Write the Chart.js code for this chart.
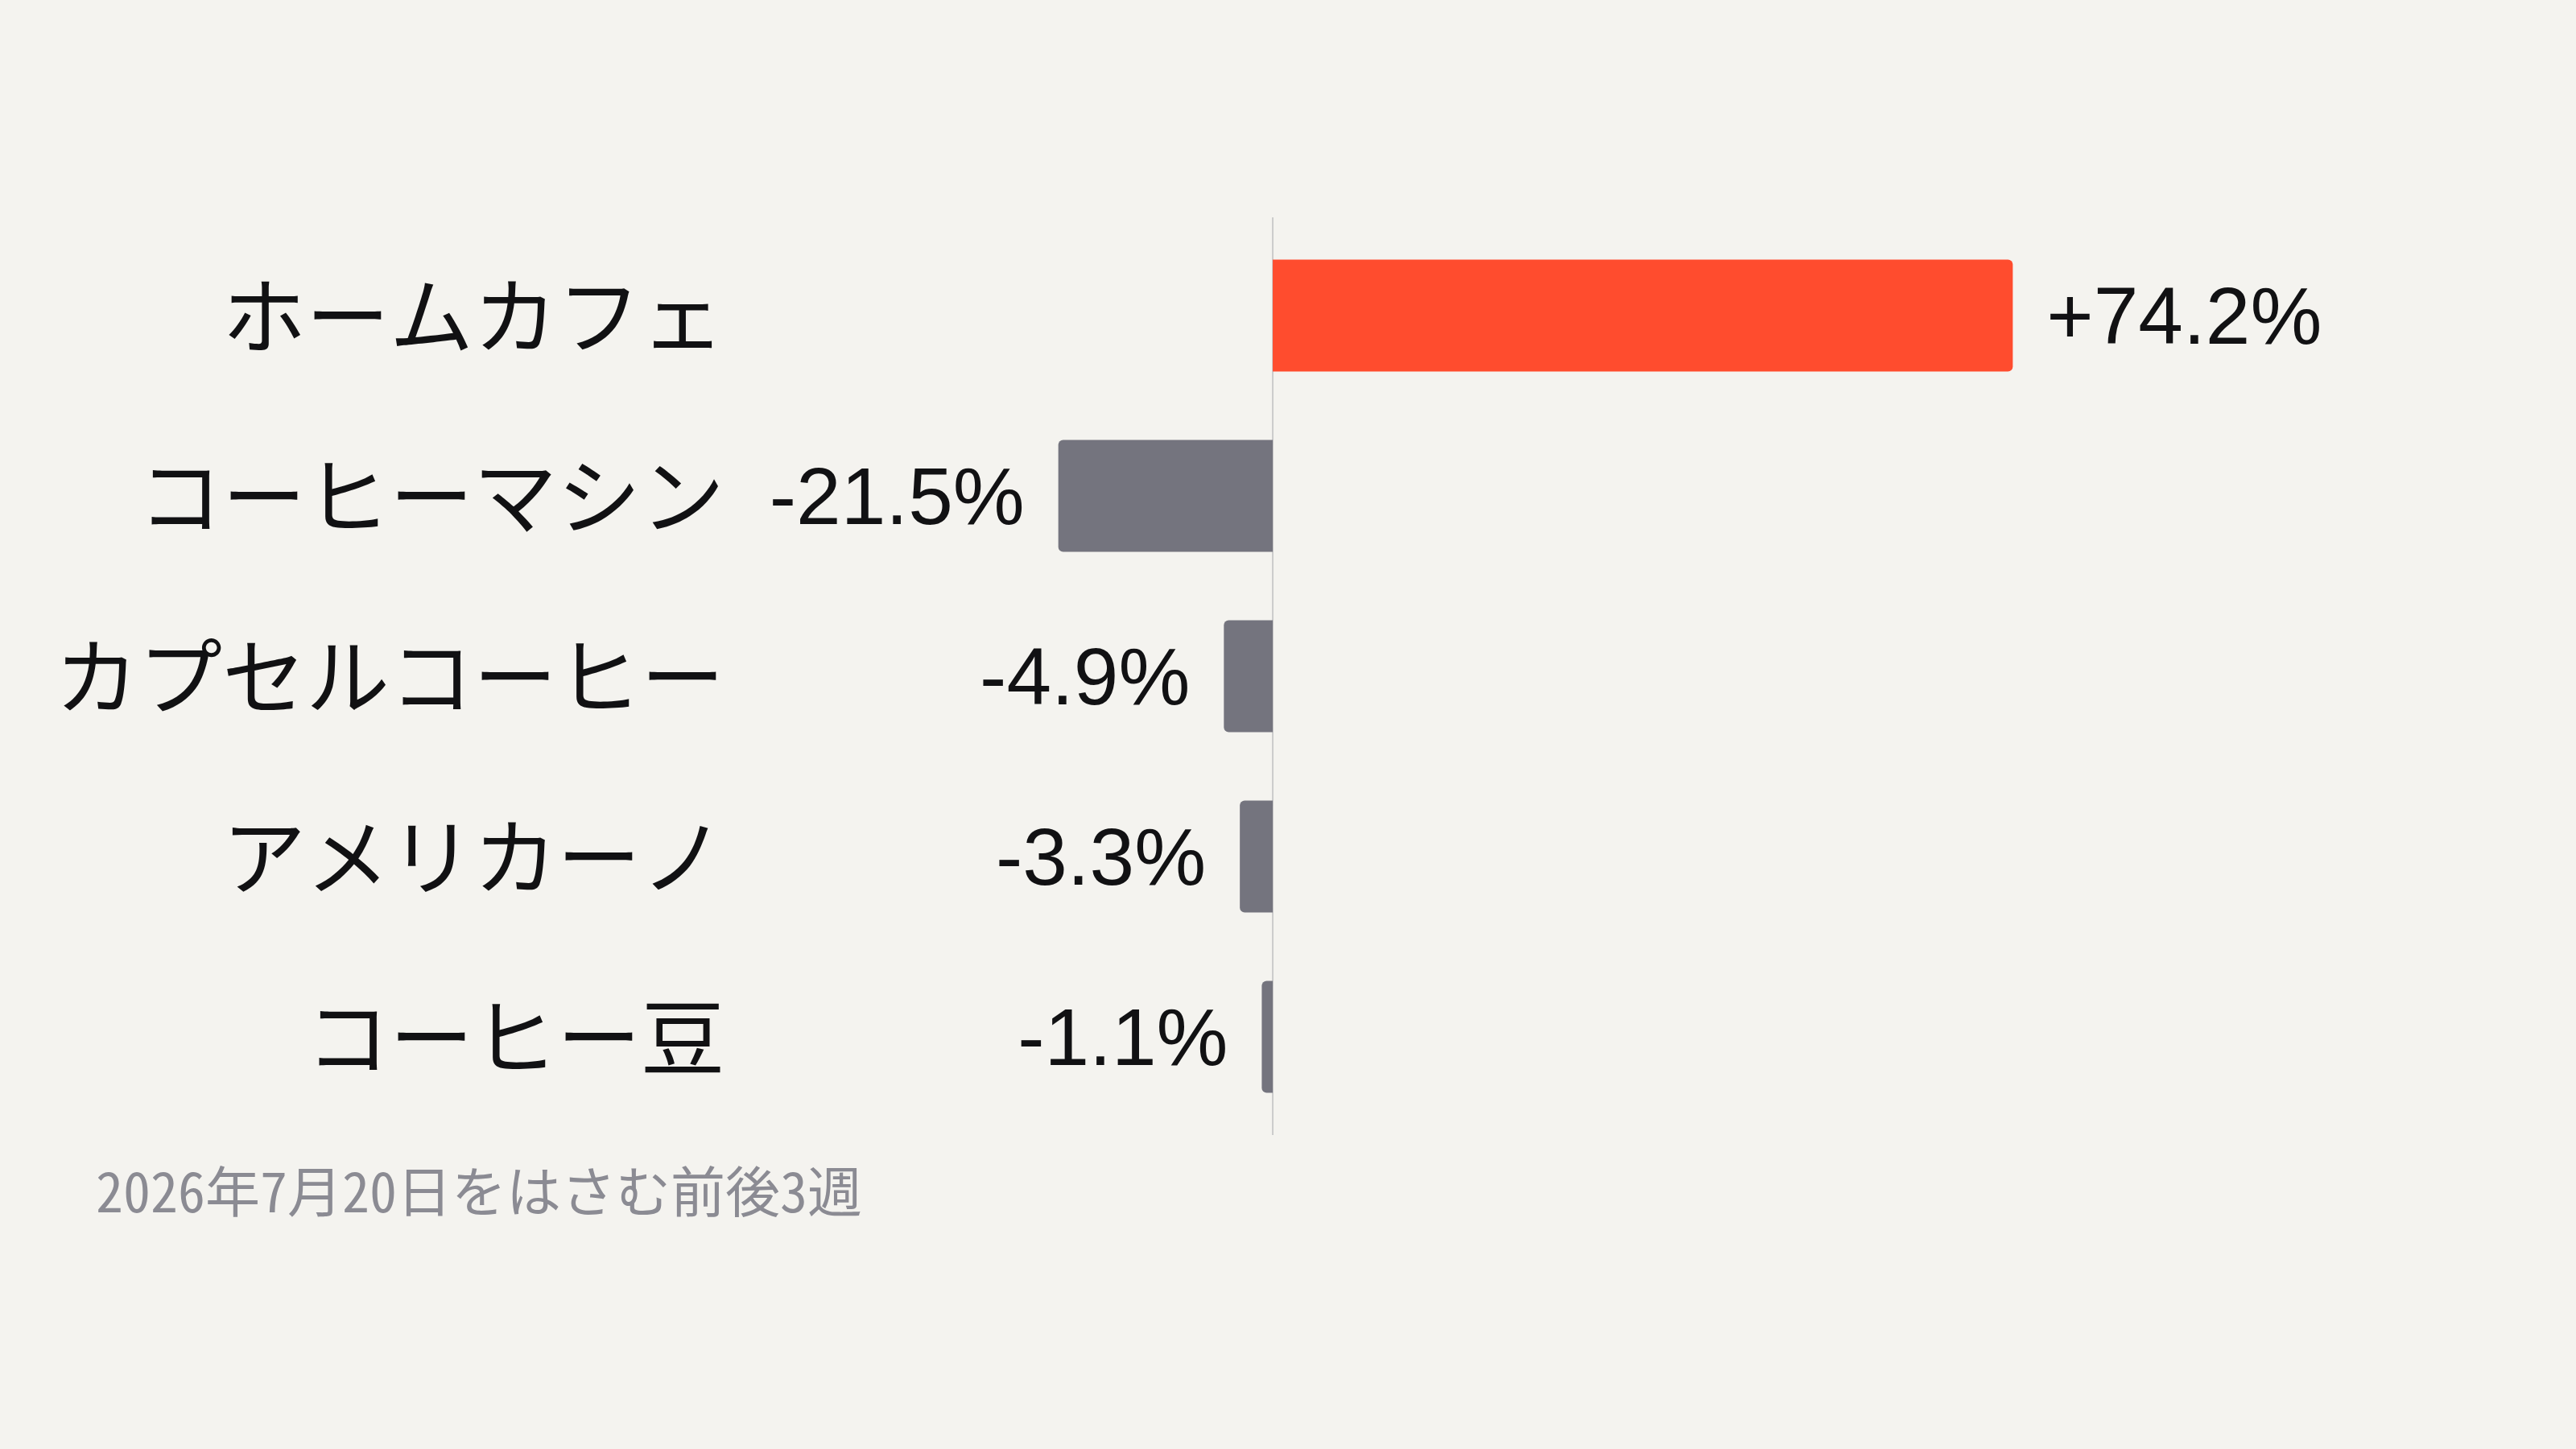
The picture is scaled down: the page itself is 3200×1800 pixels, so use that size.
<!DOCTYPE html>
<html lang="ja">
<head>
<meta charset="utf-8">
<title>前後3週の変化率</title>
<script src="https://cdn.jsdelivr.net/npm/chart.js@4.4.1/dist/chart.umd.min.js"></script>
<style>
  html, body { margin: 0; padding: 0; background: #f4f3ef; }
  #wrap { position: relative; width: 3200px; height: 1800px; }
  #nota {
    position: absolute; left: 119px; top: 1443px;
    font: 68px/68px "Noto Sans Mono CJK JP", "DejaVu Sans Mono", monospace;
    font-feature-settings: "zero" 1;
    color: #8b8b93; white-space: nowrap;
  }
</style>
</head>
<body>
<div id="wrap">
  <canvas id="grafico" width="3200" height="1800"></canvas>
  <div id="nota"></div>
</div>
<script>
// datos del gráfico
const categorias = ['ホームカフェ', 'コーヒーマシン', 'カプセルコーヒー', 'アメリカーノ', 'コーヒー豆'];
const cambios = [74.2, -21.5, -4.9, -3.3, -1.1];
const nota = '2026年7月20日をはさむ前後3週';

const rojo = '#ff4c2e';
const gris = '#74747e';

document.getElementById('nota').textContent = nota;

// línea del cero, un poco más larga que el área del gráfico
const lineaCero = {
    id: 'lineaCero',
    beforeDatasetsDraw(chart) {
        const ctx = chart.ctx;
        const area = chart.chartArea;
        const x = chart.scales.x.getPixelForValue(0);
        ctx.save();
        ctx.strokeStyle = '#cccccc';
        ctx.lineWidth = 2;
        ctx.beginPath();
        ctx.moveTo(x, area.top - 10);
        ctx.lineTo(x, area.bottom + 10);
        ctx.stroke();
        ctx.restore();
    }
};

// etiquetas de valor junto a cada barra
const etiquetas = {
    id: 'etiquetas',
    afterDatasetsDraw(chart) {
        const ctx = chart.ctx;
        const meta = chart.getDatasetMeta(0);
        ctx.save();
        ctx.font = '100px "Liberation Sans", Arial, sans-serif';
        ctx.fillStyle = '#111113';
        ctx.textBaseline = 'alphabetic';
        meta.data.forEach((barra, i) => {
            const v = cambios[i];
            const texto = (v > 0 ? '+' : '') + v.toFixed(1) + '%';
            if (v >= 0) {
                ctx.textAlign = 'left';
                ctx.fillText(texto, barra.x + 42, barra.y + 35);
            } else {
                ctx.textAlign = 'right';
                ctx.fillText(texto, barra.x - 42, barra.y + 35);
            }
        });
        ctx.restore();
    }
};

const ctx = document.getElementById('grafico').getContext('2d');
const grafico = new Chart(ctx, {
    type: 'bar',
    data: {
        labels: categorias,
        datasets: [{
            data: cambios,
            backgroundColor: cambios.map(v => v >= 0 ? rojo : gris),
            borderRadius: 6,
            borderSkipped: 'start',
            categoryPercentage: 1,
            barPercentage: 0.62
        }]
    },
    options: {
        indexAxis: 'y',
        responsive: false,
        devicePixelRatio: 1,
        animation: false,
        layout: { padding: { top: 280, bottom: 400, left: 0, right: 380 } },
        plugins: {
            legend: { display: false },
            tooltip: { enabled: false }
        },
        scales: {
            x: {
                display: false,
                min: -54,
                max: 100
            },
            y: {
                grid: { display: false, drawTicks: false },
                border: { display: false },
                ticks: {
                    color: '#111113',
                    padding: 12,
                    font: { size: 104, family: '"Noto Sans CJK JP", sans-serif' }
                },
                afterFit(scale) { scale.width = 912; }
            }
        }
    },
    plugins: [lineaCero, etiquetas]
});
</script>
</body>
</html>
